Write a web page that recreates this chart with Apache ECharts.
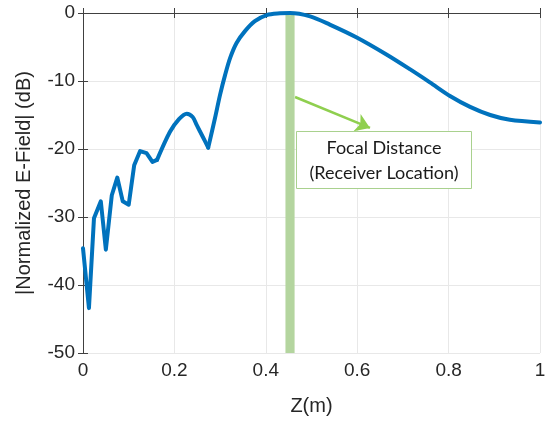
<!DOCTYPE html>
<html><head><meta charset="utf-8">
<script src="https://cdn.jsdelivr.net/npm/echarts@6/dist/echarts.min.js"></script>
<style>html,body{margin:0;padding:0;background:#fff}#c{width:551px;height:424px}</style>
</head><body><div id="c"></div>
<script>
const zValues = [0, 0.013, 0.024, 0.039, 0.05, 0.063, 0.075, 0.087, 0.1, 0.112, 0.125, 0.139, 0.152, 0.162, 0.19, 0.21, 0.227, 0.24, 0.249, 0.262, 0.274, 0.289, 0.300, 0.311, 0.322, 0.336, 0.354, 0.376, 0.402, 0.431, 0.453, 0.497, 0.540, 0.599, 0.664, 0.716, 0.759, 0.803, 0.847, 0.891, 0.934, 1];
const fieldDb = [-34.6, -43.4, -30.2, -27.7, -34.8, -26.8, -24.2, -27.7, -28.2, -22.4, -20.3, -20.6, -21.9, -21.6, -17.5, -15.6, -14.8, -15.3, -16.5, -18.2, -19.8, -15.4, -12.0, -9.1, -6.6, -4.4, -2.7, -1.2, -0.3, -0.05, 0, -0.5, -1.7, -3.6, -6.1, -8.3, -10.2, -12.2, -13.8, -15.0, -15.7, -16.1];
const xTicks = [0, 0.2, 0.4, 0.6, 0.8, 1];
const yTicks = [-50, -40, -30, -20, -10, 0];
const focalBand = [0.443, 0.463];
const arrowFrom = [0.464, -12.35];
const arrowTo = [0.628, -16.9];
const boxLines = ['Focal Distance', '(Receiver Location)'];

const pts = zValues.map((z, i) => [z, fieldDb[i]]);
const i1 = zValues.indexOf(0.162), i2 = zValues.indexOf(0.274);

const chart = echarts.init(document.getElementById('c'));
const txt = '#262626';
const axisCommon = {
  axisLine: {show: true, lineStyle: {color: '#404040', width: 1}},
  axisTick: {show: true, inside: true, length: 5, lineStyle: {color: '#404040'}},
};
const lineSeries = (data, smooth) => ({
  type: 'line', data, showSymbol: false, smooth,
  lineStyle: {color: '#0072BD', width: 4, join: 'round', cap: 'round'}, z: 3
});
const s0 = lineSeries(pts.slice(0, i1 + 1), false);
s0.markArea = {
  silent: true,
  itemStyle: {color: '#b4d59f'},
  data: [[{xAxis: focalBand[0]}, {xAxis: focalBand[1]}]]
};
s0.markLine = {
  silent: true,
  symbol: ['none', 'arrow'],
  symbolSize: [14, 14],
  label: {show: false},
  lineStyle: {color: '#8fcf4f', width: 2.5, type: 'solid'},
  data: [[{coord: arrowFrom}, {coord: arrowTo}]]
};
chart.setOption({
  animation: false,
  grid: {left: 83, right: 11, top: 13, bottom: 71},
  xAxis: [{
    type: 'value', min: 0, max: 1, interval: 0.2,
    name: 'Z(m)', nameLocation: 'middle', nameGap: 43,
    nameTextStyle: {fontFamily: 'Liberation Sans', fontSize: 20, color: txt},
    axisLabel: {fontFamily: 'Liberation Sans', fontSize: 19, color: txt, margin: 8,
      formatter: v => xTicks.includes(+v.toFixed(1)) ? String(+v.toFixed(1)) : ''},
    splitLine: {show: true, lineStyle: {color: '#e8e8e8'}},
    ...axisCommon
  }, {
    type: 'value', min: 0, max: 1, interval: 0.2, position: 'top',
    axisLabel: {show: false}, splitLine: {show: false}, ...axisCommon
  }],
  yAxis: [{
    type: 'value', min: -50, max: 0, interval: 10,
    name: '|Normalized E-Field| (dB)', nameLocation: 'middle', nameGap: 49,
    nameTextStyle: {fontFamily: 'Liberation Sans', fontSize: 20, color: txt},
    axisLabel: {fontFamily: 'Liberation Sans', fontSize: 19, color: txt, margin: 8,
      formatter: v => yTicks.includes(v) ? String(v) : ''},
    splitLine: {show: true, lineStyle: {color: '#e8e8e8'}},
    ...axisCommon
  }, {
    type: 'value', min: -50, max: 0, interval: 10, position: 'right',
    axisLabel: {show: false}, splitLine: {show: false}, ...axisCommon
  }],
  series: [
    s0,
    lineSeries(pts.slice(i1, i2 + 1), 0.3),
    lineSeries(pts.slice(i2), 0.3)
  ],
  graphic: [{
    type: 'group', left: 296, top: 131, z: 100,
    children: [{
      type: 'rect', z: 100, shape: {x: 0, y: 0, width: 175, height: 57},
      style: {fill: '#fff', stroke: '#a9d18e', lineWidth: 1}
    }, {
      type: 'text', z: 101, x: 87.5, y: 17,
      style: {text: boxLines[0], fontFamily: 'Lato', fontSize: 18, fill: '#1a1a1a', align: 'center', verticalAlign: 'middle'}
    }, {
      type: 'text', z: 101, x: 87.5, y: 42,
      style: {text: boxLines[1], fontFamily: 'Lato', fontSize: 18, fill: '#1a1a1a', align: 'center', verticalAlign: 'middle'}
    }]
  }]
});
</script></body></html>
